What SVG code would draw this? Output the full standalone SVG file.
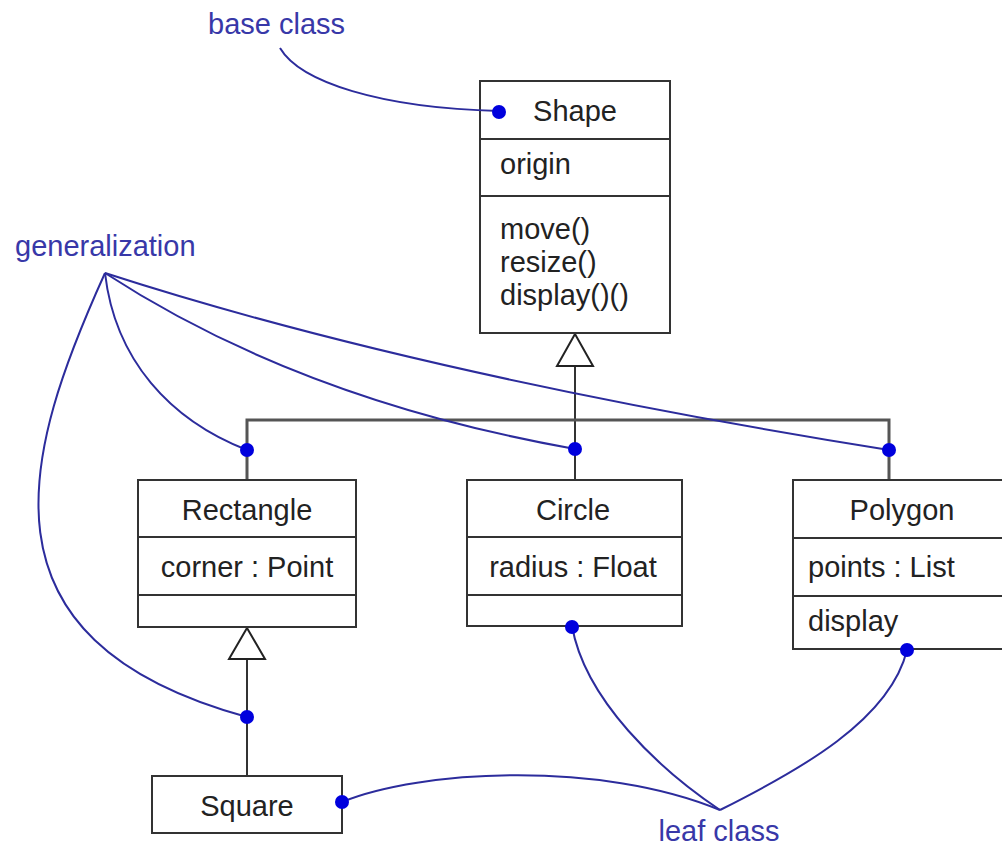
<svg xmlns="http://www.w3.org/2000/svg" width="1002" height="851" viewBox="0 0 1002 851">
<style>
.box{fill:#fff;stroke:#333;stroke-width:2}
.div{stroke:#333;stroke-width:2}
.t{font-family:"Liberation Sans",Arial,sans-serif;font-size:29px;fill:#222}
.c{text-anchor:middle}
.lbl{font-family:"Liberation Sans",Arial,sans-serif;font-size:29px;fill:#3838a8}
.gen{fill:none;stroke:#333;stroke-width:2}
.bar{fill:none;stroke:#555;stroke-width:3}
.tri{fill:#fff;stroke:#222;stroke-width:2}
.note{fill:none;stroke:#2c2c9c;stroke-width:2}
.dot{fill:#0000dd}
</style>
<rect width="1002" height="851" fill="#fff"/>
<g id="connectors">
<line class="gen" x1="575" y1="365" x2="575" y2="480"/>
<polyline class="bar" points="247,480 247,420 889,420 889,480"/>
<polygon class="tri" points="575,334 557,366 593,366"/>
<line class="gen" x1="247" y1="659" x2="247" y2="776"/>
<polygon class="tri" points="247,628 229,659 265,659"/>
</g>
<g id="Shape">
<rect class="box" x="480" y="81" width="190" height="252"/>
<line class="div" x1="480" y1="139" x2="670" y2="139"/>
<line class="div" x1="480" y1="196" x2="670" y2="196"/>
<text class="t c" x="575" y="121">Shape</text>
<text class="t" x="500" y="174">origin</text>
<text class="t" x="500" y="239">move()</text>
<text class="t" x="500" y="272">resize()</text>
<text class="t" x="500" y="305">display()()</text>
</g>
<g id="Rectangle">
<rect class="box" x="138" y="480" width="218" height="147"/>
<line class="div" x1="138" y1="537" x2="356" y2="537"/>
<line class="div" x1="138" y1="595" x2="356" y2="595"/>
<text class="t c" x="247" y="520">Rectangle</text>
<text class="t c" x="247" y="577">corner : Point</text>
</g>
<g id="Circle">
<rect class="box" x="467" y="480" width="215" height="146"/>
<line class="div" x1="467" y1="537" x2="682" y2="537"/>
<line class="div" x1="467" y1="595" x2="682" y2="595"/>
<text class="t c" x="573" y="520">Circle</text>
<text class="t c" x="573" y="577">radius : Float</text>
</g>
<g id="Polygon">
<rect class="box" x="793" y="480" width="220" height="169"/>
<line class="div" x1="793" y1="538" x2="1010" y2="538"/>
<line class="div" x1="793" y1="596" x2="1010" y2="596"/>
<text class="t c" x="902" y="520">Polygon</text>
<text class="t" x="808" y="577">points : List</text>
<text class="t" x="808" y="631">display</text>
</g>
<g id="Square">
<rect class="box" x="152" y="776" width="190" height="57"/>
<text class="t c" x="247" y="816">Square</text>
</g>
<g id="notes">
<text class="lbl" x="208" y="34">base class</text>
<text class="lbl" x="15" y="256">generalization</text>
<text class="lbl" x="719" y="841" text-anchor="middle">leaf class</text>
<path class="note" d="M280,48 C300,82 380,108 499,111"/>
<path class="note" d="M105,273 C25,450 -35,640 247,717"/>
<path class="note" d="M105,273 C115,360 170,420 247,450"/>
<path class="note" d="M105,273 Q300,400 575,449"/>
<path class="note" d="M105,273 Q420,375 889,450"/>
<path class="note" d="M342,802 C420,770 600,760 720,810"/>
<path class="note" d="M572,626 C585,700 660,770 720,810"/>
<path class="note" d="M907,650 C890,720 800,770 720,810"/>
<circle class="dot" cx="499" cy="112" r="7"/>
<circle class="dot" cx="247" cy="450" r="7"/>
<circle class="dot" cx="575" cy="449" r="7"/>
<circle class="dot" cx="889" cy="450" r="7"/>
<circle class="dot" cx="247" cy="717" r="7"/>
<circle class="dot" cx="342" cy="802" r="7"/>
<circle class="dot" cx="572" cy="627" r="7"/>
<circle class="dot" cx="907" cy="650" r="7"/>
</g>
</svg>
